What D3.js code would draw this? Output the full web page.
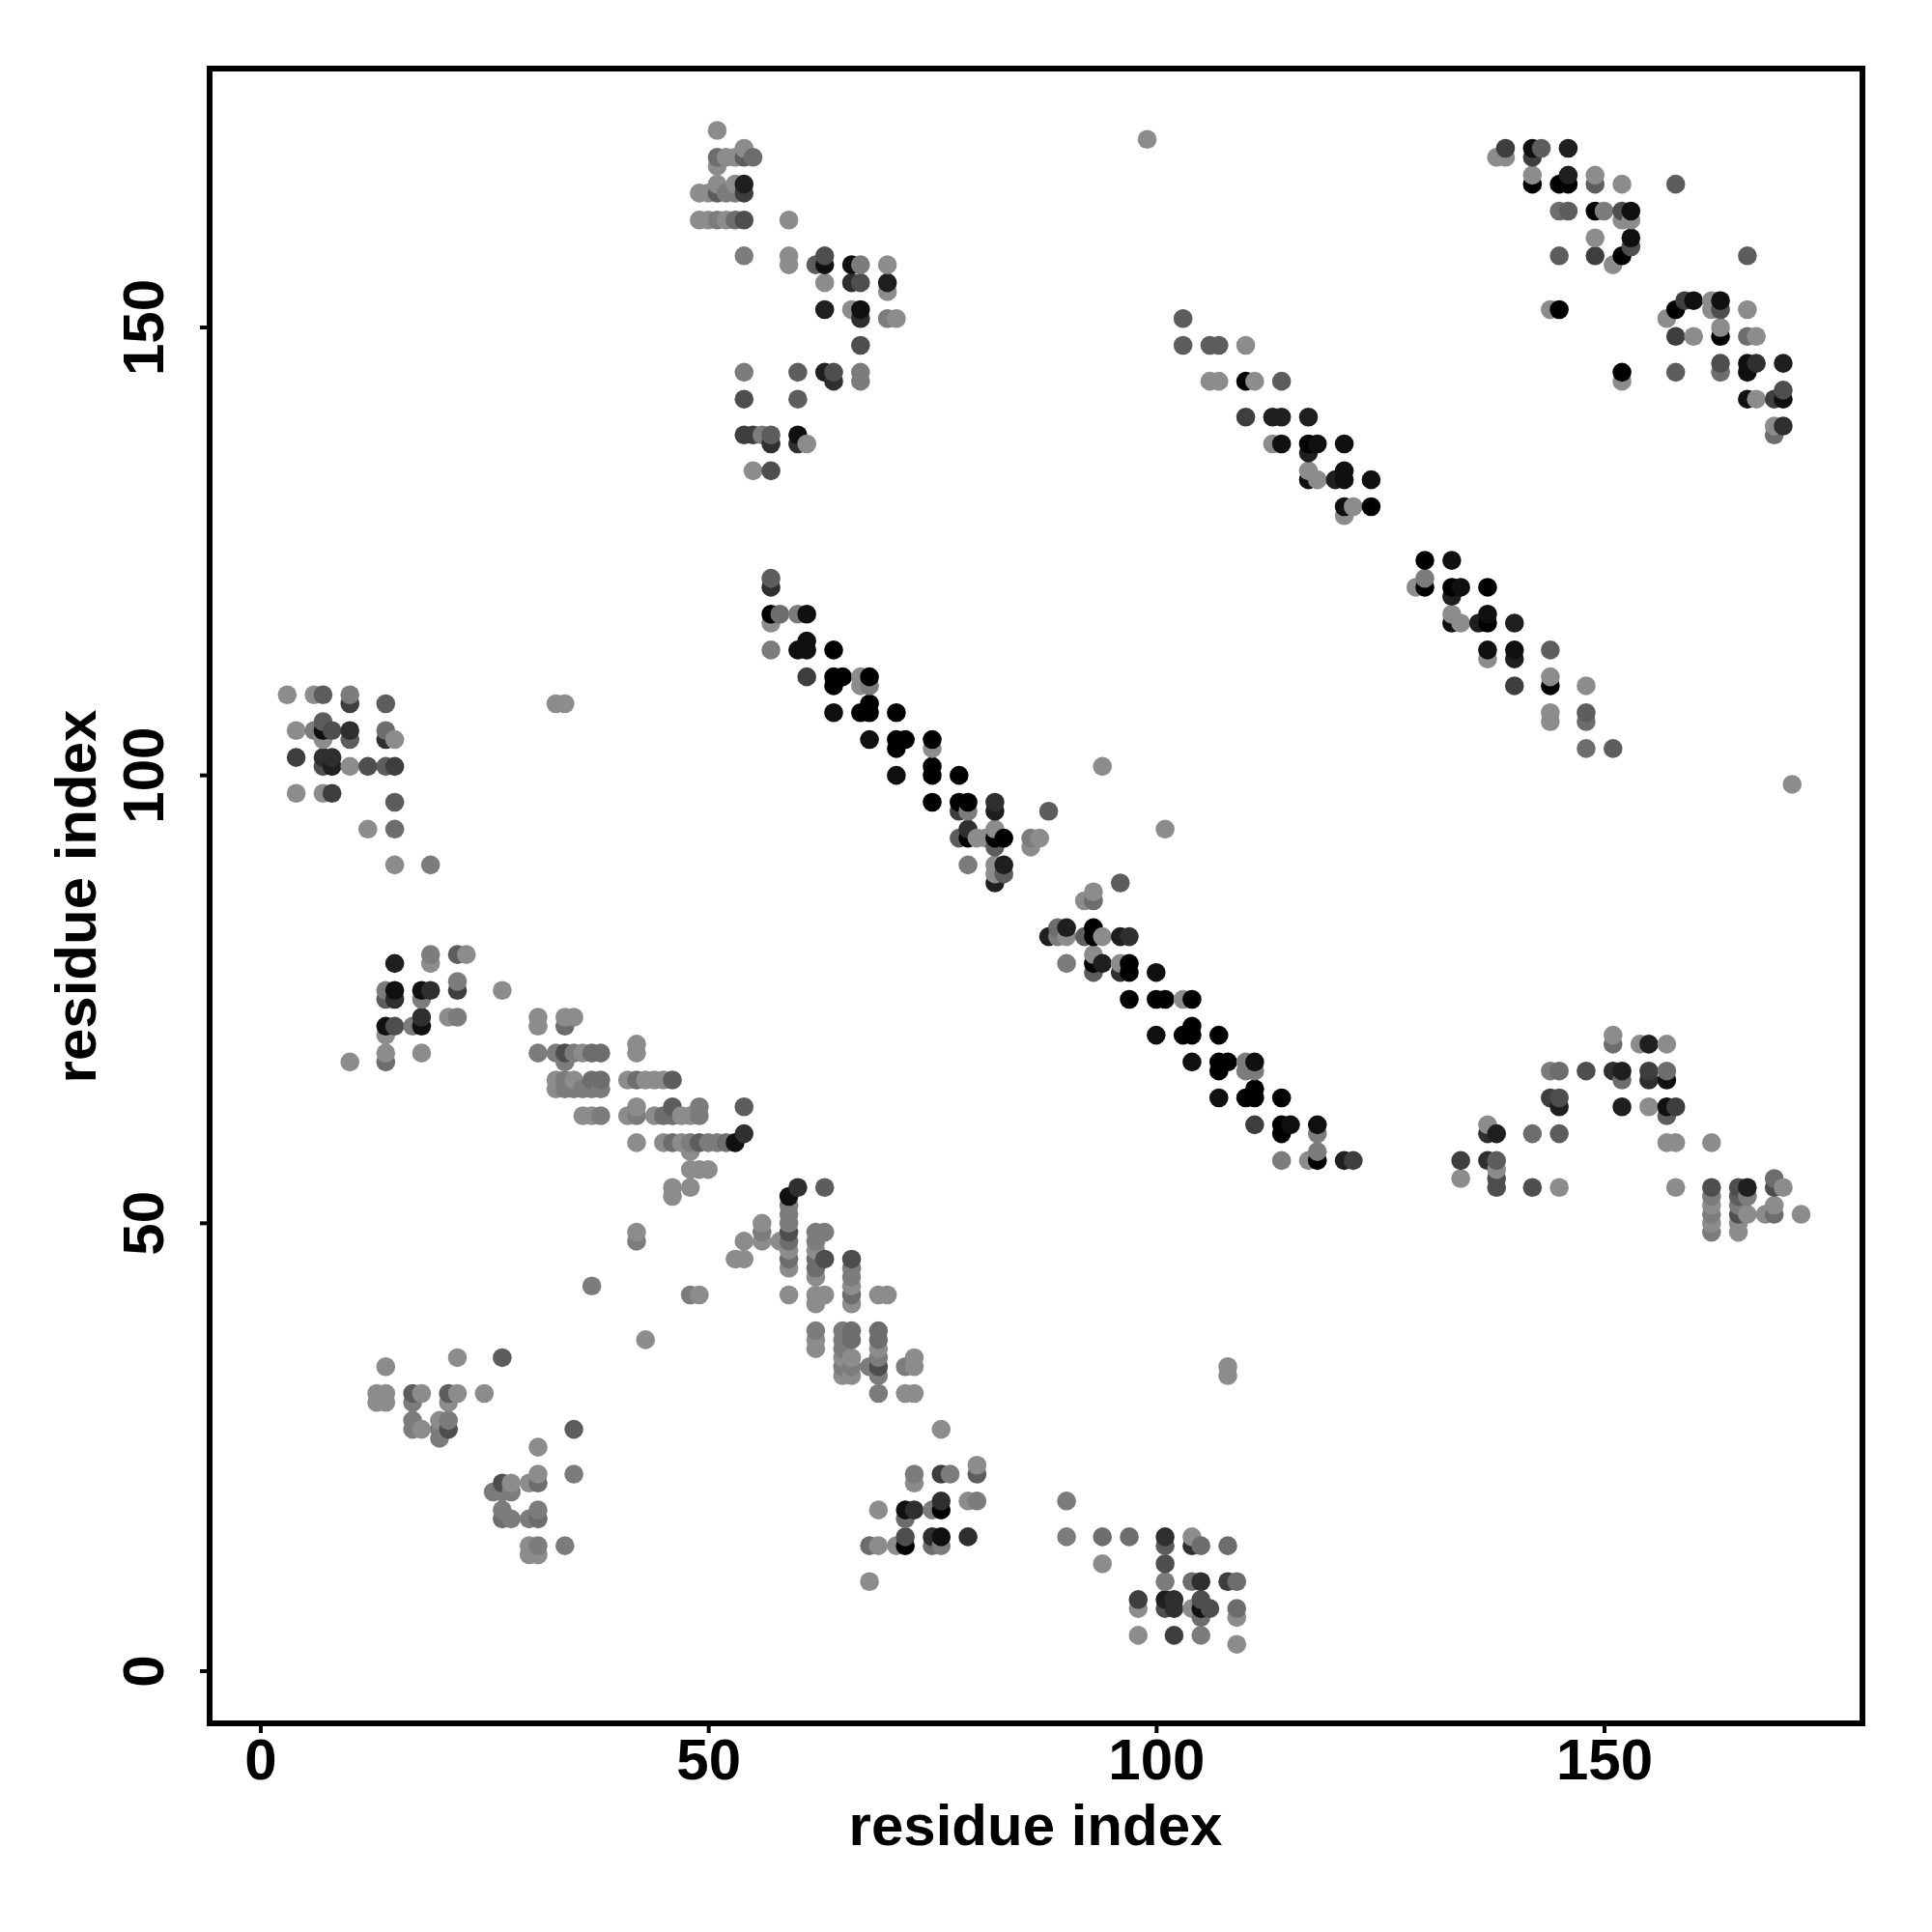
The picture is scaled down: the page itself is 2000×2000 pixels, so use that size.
<!DOCTYPE html>
<html><head><meta charset="utf-8">
<script src="https://cdnjs.cloudflare.com/ajax/libs/d3/7.8.5/d3.min.js"></script>
<style>html,body{margin:0;padding:0;background:#fff}svg{display:block}
text{font-family:"Liberation Sans",Arial,sans-serif;font-weight:bold;fill:#000}</style>
</head><body><svg id="c" width="2000" height="2000"></svg>
<script>
// each contact: [residue i, residue j, contact strength 0-9]
const xTicks=[0,50,100,150];
const yTicks=[0,50,100,150];
const xLabel="residue index";
const yLabel="residue index";
const clusterA=[[3,109,0],[6,109,0],[7,109,3],[10,108,5],[10,109,1],[14,108,3],[7,106,3],[4,105,0],[6,105,1],[7,105,8],[8,105,4],[10,105,6],[14,105,2],[7,104,0],[10,104,3],[14,104,6],[15,104,0],[4,102,5],[7,102,6],[8,102,6],[7,101,4],[8,101,7],[10,101,0],[12,101,4],[14,101,3],[15,101,5],[4,98,0],[7,98,0],[8,98,5],[15,97,3],[12,94,0],[15,94,2],[15,90,0],[19,90,1]];
const clusterB=[[19,80,1],[22,80,3],[23,80,0],[15,79,7],[19,79,0],[22,77,1],[14,76,1],[15,76,8],[18,76,8],[19,76,6],[22,76,5],[27,76,0],[14,75,3],[15,75,6],[18,75,1],[18,73,6],[21,73,0],[22,73,1],[14,72,8],[15,72,4],[17,72,1],[18,72,8],[14,71,0],[14,69,0],[18,69,0],[10,68,0],[14,68,2]];
const clusterC=[[31,73,0],[31,72,0],[34,72,2],[34,73,0],[35,73,0],[42,70,0],[31,69,1],[33,69,1],[34,69,4],[35,69,1],[36,69,0],[37,69,2],[38,69,2],[42,69,0],[34,68,1],[33,66,0],[34,66,1],[35,66,0],[37,66,2],[38,66,2],[41,66,0],[42,66,2],[43,66,0],[44,66,0],[45,66,0],[46,66,3],[33,65,0],[34,65,1],[35,65,1],[36,65,1],[37,65,1],[38,65,1],[42,63,0],[46,63,3],[49,63,1],[54,63,3],[36,62,0],[37,62,0],[38,62,1],[41,62,0],[42,62,1],[44,62,0],[45,62,2],[46,62,2],[47,62,0],[48,62,0],[49,62,1],[54,60,6],[42,59,0],[45,59,0],[46,59,2],[47,59,0],[48,59,1],[49,59,3],[50,59,1],[51,59,1],[52,59,2],[53,59,8],[48,58,0],[48,56,0],[49,56,0],[50,56,0],[46,54,0],[48,54,0],[46,53,0]];
const clusterD=[[60,54,6],[63,54,3],[59,53,8],[59,52,1],[59,51,1],[59,50,1],[59,49,4],[59,48,2],[59,47,0],[59,46,2],[59,45,0],[59,42,0],[56,50,0],[56,49,1],[56,48,0],[54,48,0],[58,48,0],[53,46,0],[54,46,0],[42,49,0],[42,48,1],[37,43,1],[48,42,1],[49,42,0],[43,37,0],[62,49,1],[62,48,1],[62,47,0],[62,46,2],[62,45,2],[62,44,0],[62,42,0],[62,41,0],[63,49,1],[63,46,4],[63,42,0],[66,46,4],[66,45,1],[66,44,1],[66,43,0],[66,42,2],[66,41,0],[69,42,0],[70,42,0],[62,38,1],[62,37,0],[62,36,0],[65,38,1],[65,37,1],[65,36,1],[65,35,0],[65,34,1],[65,33,0],[66,38,2],[66,37,2],[66,35,0],[66,34,1],[66,33,0],[68,34,1],[69,38,2],[69,37,2],[69,36,0],[69,35,1],[69,34,4],[69,33,1],[69,31,1],[72,34,1],[73,35,0],[73,34,0],[72,31,0],[73,31,0],[76,27,0]];
const clusterE=[[73,22,1],[73,21,0],[76,22,5],[77,22,1],[80,23,0],[80,22,3],[79,19,0],[80,19,1],[69,18,0],[72,18,8],[73,18,6],[72,17,2],[75,18,1],[76,19,6],[76,18,9],[72,15,4],[75,15,6],[76,15,8],[79,15,6],[68,14,2],[69,14,0],[71,14,0],[72,14,9],[75,14,2],[76,14,1],[68,10,0]];
const clusterF=[[90,19,1],[90,15,1],[94,15,2],[97,15,2],[101,15,6],[101,14,3],[104,15,0],[104,14,6],[105,14,2],[108,14,2],[94,12,0],[101,12,4],[101,10,1],[104,10,2],[105,10,6],[108,10,5],[109,10,2],[98,8,5],[101,8,7],[102,8,6],[105,8,4],[98,7,0],[101,7,4],[102,7,6],[104,7,0],[105,7,8],[106,7,4],[105,6,2],[109,7,2],[109,6,0],[98,4,0],[102,4,5],[105,4,1],[109,3,0]];
const clusterG=[[14,34,0],[22,35,0],[27,35,3],[13,31,0],[14,31,0],[13,30,0],[14,30,0],[17,31,3],[18,31,0],[17,30,1],[21,31,3],[22,31,0],[21,30,0],[25,31,0],[17,28,1],[17,27,1],[18,27,0],[20,28,0],[21,28,1],[21,27,4],[20,27,1],[20,26,1],[35,27,3],[31,25,0],[35,22,1],[31,22,0],[31,21,2],[30,21,0],[27,21,4],[28,21,0],[26,20,1],[27,20,1],[28,20,1],[27,18,1],[31,18,1],[27,17,2],[28,17,1],[30,17,1],[31,17,2],[30,14,0],[31,14,1],[34,14,1],[30,13,0],[31,13,0]];
const clusterH=[[51,172,0],[54,170,0],[51,169,2],[52,169,0],[53,169,0],[54,169,3],[55,169,2],[51,168,0],[51,166,0],[53,166,0],[54,166,7],[49,165,0],[50,165,0],[51,165,3],[52,165,1],[53,165,1],[54,165,5],[49,162,0],[50,162,0],[51,162,1],[52,162,0],[53,162,2],[54,162,4],[59,162,0],[54,158,1],[59,158,0],[63,158,4],[59,157,0],[62,157,3],[63,157,8],[66,157,8],[67,157,1],[70,157,0],[63,155,0],[66,155,6],[67,155,4],[70,155,7],[70,154,0],[63,152,7],[66,152,0],[67,152,8],[67,151,6],[70,151,1],[71,151,0],[67,148,4],[54,145,1],[60,145,3],[63,145,7],[64,145,4],[67,145,1],[64,144,6],[67,144,1],[54,142,4],[60,142,3],[54,138,5],[55,138,5],[56,138,1],[57,138,3],[60,138,8],[57,137,6],[60,137,6],[61,137,0],[55,134,0],[57,134,4]];
const diagonalA=[[57,122,3],[57,121,6],[57,118,9],[58,118,2],[60,118,1],[61,118,8],[57,117,0],[61,115,8],[57,114,1],[60,114,8],[61,114,8],[64,114,9],[61,111,5],[64,111,9],[65,111,9],[67,111,0],[68,111,9],[64,110,9],[67,110,0],[68,110,1],[68,108,9],[64,107,8],[67,107,9],[68,107,9],[71,107,9],[68,104,8],[71,104,9],[72,104,9],[75,104,9],[71,103,9],[75,103,0],[75,101,9],[71,100,8],[75,100,9],[78,100,9],[75,97,9],[78,97,9],[79,97,9],[82,97,6],[78,96,5],[79,96,1],[82,96,7],[88,96,3],[79,94,6],[82,94,0],[78,93,3],[79,93,9],[80,93,0],[81,93,0],[82,93,9],[83,93,9],[86,93,1],[87,93,0],[82,92,3],[86,92,0],[79,90,1],[82,90,0],[83,90,7],[82,89,0],[83,89,3],[82,88,7]];
const diagonalB=[[101,94,0],[96,88,3],[93,87,0],[92,86,0],[93,86,2],[88,82,7],[89,82,1],[89,83,2],[90,83,7],[90,82,0],[92,82,3],[93,83,9],[93,82,9],[94,82,0],[96,82,7],[97,82,6],[93,80,0],[90,79,1],[93,79,9],[94,79,7],[96,79,0],[97,79,9],[93,78,3],[96,78,6],[97,78,9],[100,78,8],[97,75,9],[100,75,9],[101,75,9],[103,75,0],[104,75,9],[104,72,9],[100,71,8],[103,71,9],[104,71,9],[107,71,9],[104,68,8],[107,68,9],[108,68,9],[110,68,1],[111,68,8],[107,67,9],[110,67,1],[111,67,1],[111,65,9],[107,64,8],[110,64,9],[111,64,9],[114,64,9],[111,61,5],[114,61,9],[115,61,8],[118,61,8],[114,60,9],[118,60,1],[118,58,1],[114,57,1],[117,57,0],[118,57,9],[121,57,7],[122,57,5]];
const diagonalC=[[103,151,3],[103,148,3],[106,148,3],[107,148,3],[110,148,0],[106,144,0],[107,144,0],[110,144,9],[111,144,0],[114,144,3],[110,140,5],[113,140,7],[114,140,7],[117,140,7],[113,137,0],[114,137,8],[117,137,9],[118,137,8],[121,137,8],[117,136,7],[117,134,0],[121,134,8],[117,133,8],[118,133,0],[120,133,7],[121,133,8],[124,133,8],[121,130,8],[122,130,0],[124,130,9],[121,129,0]];
const diagonalD=[[130,124,9],[133,124,8],[130,122,1],[129,121,0],[130,121,9],[133,121,9],[134,121,8],[137,121,9],[133,120,7],[133,118,0],[137,118,8],[133,117,8],[134,117,0],[136,117,7],[137,117,9],[140,117,7],[137,114,8],[140,114,8],[144,114,3],[137,113,0],[140,113,7],[144,111,0],[140,110,5],[144,110,9],[148,110,0],[144,107,0],[148,107,3],[144,106,0],[148,106,2],[148,103,2],[151,103,3]];
const clusterI=[[139,170,5],[142,170,8],[143,170,3],[146,170,7],[138,169,0],[139,169,0],[142,169,5],[142,167,0],[146,167,7],[149,167,0],[142,166,9],[145,166,9],[146,166,9],[149,166,3],[152,166,0],[158,166,3],[145,163,2],[146,163,3],[149,163,9],[150,163,1],[152,163,4],[153,163,8],[152,162,0],[153,162,0],[149,160,0],[153,160,8],[153,159,4],[145,158,3],[149,158,5],[152,158,9],[166,158,3],[151,157,0],[159,153,5],[160,153,8],[162,153,0],[163,153,8],[144,152,0],[145,152,9],[158,152,9],[162,152,0],[163,152,4],[166,152,0],[157,151,0],[163,150,0],[158,149,5],[160,149,0],[163,149,9],[166,149,2],[167,149,0],[163,146,4],[166,146,8],[167,146,6],[170,146,7],[152,145,9],[158,145,3],[163,145,2],[166,145,8],[152,144,0],[170,143,4],[166,142,8],[167,142,0],[169,142,5],[170,142,8],[169,139,0],[170,139,6],[169,138,2]];
const clusterJ=[[151,71,0],[151,70,2],[154,70,0],[155,70,7],[157,70,0],[144,67,1],[145,67,2],[148,67,4],[151,67,6],[152,67,7],[155,67,5],[157,67,2],[152,66,2],[155,66,6],[157,66,8],[144,64,5],[145,64,4],[145,63,7],[152,63,7],[155,63,0],[157,63,8],[158,63,5],[157,62,3],[137,61,0],[137,60,6],[138,60,7],[142,60,2],[145,60,3],[157,59,0],[158,59,0],[162,59,0],[134,57,5],[137,57,6],[138,57,3],[138,56,0],[134,55,0],[138,55,4],[169,55,2],[138,54,4],[142,54,4],[145,54,0],[158,54,0],[162,54,4],[165,54,4],[166,54,7],[169,54,4],[170,54,0],[162,53,1],[165,53,3],[166,53,1],[162,52,0],[165,52,1],[169,52,0],[162,51,1],[165,51,4],[166,51,0],[168,51,0],[169,51,2],[172,51,0],[162,50,0],[165,50,0],[162,49,1],[165,49,0]];
const outliers=[[99,171,0],[33,108,0],[34,108,0],[94,101,0],[171,99,0],[108,34,0],[108,33,0]];

const contacts=[clusterA,clusterB,clusterC,clusterD,clusterE,clusterF,clusterG,clusterH,diagonalA,diagonalB,diagonalC,diagonalD,clusterI,clusterJ,outliers]
  .flat().map(([i,j,s])=>({i,j,s}));
contacts.sort((a,b)=>d3.ascending(a.i,b.i)||d3.ascending(a.j,b.j));

const frame={left:217,right:1928,top:71,bottom:1784};
const x=d3.scaleLinear().domain([0,150]).range([269.5,1660.5]);
const y=d3.scaleLinear().domain([0,150]).range([1730,339]);
const grey=d3.scaleLinear().domain([0,9]).range([140,0]);
const svg=d3.select("#c");

svg.append("g").selectAll("circle").data(contacts).join("circle")
  .attr("cx",d=>x(d.i)).attr("cy",d=>y(d.j)).attr("r",9.8)
  .attr("fill",d=>{const g=Math.round(grey(d.s));return d3.rgb(g,g,g)});

svg.append("rect").attr("x",frame.left).attr("y",frame.top)
  .attr("width",frame.right-frame.left).attr("height",frame.bottom-frame.top)
  .attr("fill","none").attr("stroke","#000").attr("stroke-width",6);

const ax=svg.append("g").attr("transform",`translate(0,${frame.bottom})`)
  .call(d3.axisBottom(x).tickValues(xTicks).tickSize(10).tickPadding(12));
ax.select(".domain").remove();
ax.selectAll("line").attr("stroke","#000").attr("stroke-width",4);
ax.selectAll("text").attr("font-size",60).attr("dy",null)
  .attr("y",58).attr("dominant-baseline","alphabetic");

const ay=svg.append("g").attr("transform",`translate(${frame.left},0)`)
  .call(d3.axisLeft(y).tickValues(yTicks).tickSize(10));
ay.select(".domain").remove();
ay.selectAll("line").attr("stroke","#000").attr("stroke-width",4);
ay.selectAll("text").attr("font-size",60).attr("dy",null).attr("x",null).attr("y",null)
  .attr("text-anchor","middle")
  .attr("transform",d=>`translate(-48,${y(d)}) rotate(-90)`);
ay.selectAll(".tick").attr("transform",null);
ay.selectAll("line").attr("y1",d=>y(d)).attr("y2",d=>y(d));

svg.append("text").attr("x",1072).attr("y",1910).attr("text-anchor","middle")
  .attr("font-size",60).text(xLabel);
svg.append("text").attr("transform","translate(99,928) rotate(-90)").attr("text-anchor","middle")
  .attr("font-size",60).text(yLabel);
</script></body></html>
